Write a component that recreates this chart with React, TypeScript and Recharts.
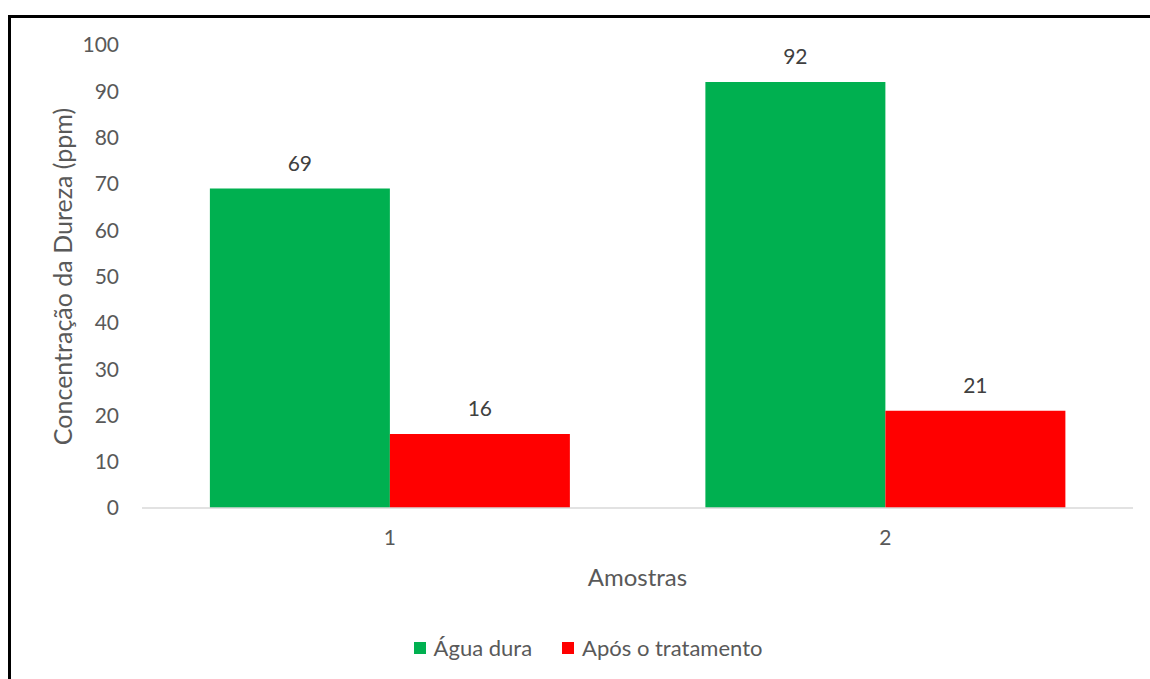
import { BarChart, Bar, XAxis, YAxis, LabelList, Label } from 'recharts';

const amostras = ['1', '2'];
const aguaDura = [69, 92];
const aposTratamento = [16, 21];
const yTicks = [0, 10, 20, 30, 40, 50, 60, 70, 80, 90, 100];

const series = [
  { key: 'agua', name: 'Água dura', color: '#00B050' },
  { key: 'apos', name: 'Após o tratamento', color: '#FF0000' },
];

const data = amostras.map((a, i) => ({
  amostra: a,
  agua: aguaDura[i],
  apos: aposTratamento[i],
}));

const FONT = 'Lato, "Open Sans", sans-serif';
const TEXT = '#595959';

function LegendRow() {
  return (
    <div
      style={{
        position: 'absolute',
        left: 0,
        top: 634,
        width: 1176,
        display: 'flex',
        justifyContent: 'center',
        gap: 30,
        fontFamily: FONT,
        fontSize: 22,
        color: TEXT,
        lineHeight: '28px',
      }}
    >
      {series.map((s) => (
        <span key={s.key} style={{ display: 'flex', alignItems: 'center', gap: 8 }}>
          <span style={{ width: 12, height: 12, background: s.color, display: 'inline-block' }} />
          {s.name}
        </span>
      ))}
    </div>
  );
}

function YTitle({ viewBox }: any) {
  const cx = viewBox.x + viewBox.width / 2 - 20;
  const cy = viewBox.y + viewBox.height / 2;
  return (
    <text
      x={cx}
      y={cy}
      transform={`rotate(-90, ${cx}, ${cy})`}
      textAnchor="middle"
      fill={TEXT}
      fontFamily={FONT}
      fontSize={25}
    >
      Concentração da Dureza (ppm)
    </text>
  );
}

export default function App() {
  return (
    <div style={{ position: 'absolute', left: 0, top: 0, width: 1150, height: 679, overflow: 'hidden', background: '#fff' }}>
      <div
        style={{
          position: 'absolute',
          left: 8,
          top: 15,
          width: 1160,
          height: 700,
          borderLeft: '3px solid #000',
          borderTop: '3px solid #000',
        }}
      />
      <div style={{ position: 'absolute', left: 0, top: 0 }}>
        <BarChart
          width={1150}
          height={679}
          data={data}
          margin={{ top: 45, right: 17, bottom: 93, left: 42 }}
          barGap={0}
          barCategoryGap="13.7%"
        >
          <XAxis
            dataKey="amostra"
            axisLine={{ stroke: '#D9D9D9', strokeWidth: 1.5 }}
            tickLine={false}
            tickSize={0}
            tickMargin={22}
            height={78}
            tick={{ fill: TEXT, fontSize: 21, fontFamily: FONT }}
          >
            <Label
              value="Amostras"
              position="insideBottom"
              offset={0}
              fill={TEXT}
              fontSize={24}
              fontFamily={FONT}
            />
          </XAxis>
          <YAxis
            domain={[0, 100]}
            ticks={yTicks}
            interval={0}
            width={100}
            axisLine={false}
            tickLine={false}
            tickSize={0}
            tickMargin={23}
            tick={{ fill: TEXT, fontSize: 21, fontFamily: FONT }}
          >
            <Label content={<YTitle />} />
          </YAxis>
          {series.map((s) => (
            <Bar key={s.key} dataKey={s.key} name={s.name} fill={s.color} isAnimationActive={false}>
              <LabelList
                dataKey={s.key}
                position="top"
                offset={18}
                fill="#404040"
                fontSize={21}
                fontFamily={FONT}
              />
            </Bar>
          ))}
        </BarChart>
      </div>
      <LegendRow />
    </div>
  );
}
